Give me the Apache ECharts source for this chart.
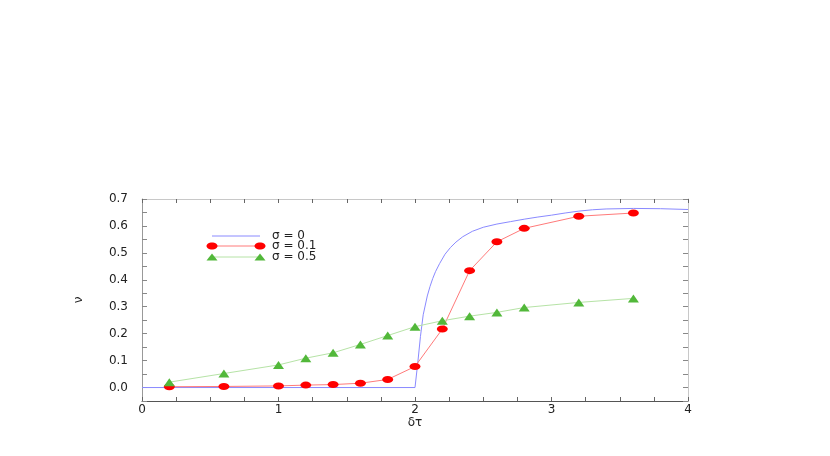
<!DOCTYPE html>
<html>
<head>
<meta charset="utf-8">
<script src="https://cdn.jsdelivr.net/npm/echarts@6/dist/echarts.min.js"></script>
<style>
  html, body { margin: 0; padding: 0; background: #fff; }
  #chart { width: 830px; height: 456px; }
</style>
</head>
<body>
<div id="chart"></div>
<script>
// x positions sampled for the two simulated series
const xSamples = [0.2, 0.6, 1.0, 1.2, 1.4, 1.6, 1.8, 2.0, 2.2, 2.4, 2.6, 2.8, 3.2, 3.6]
const sigma01 = [0.003, 0.004, 0.006, 0.009, 0.011, 0.016, 0.030, 0.078, 0.217, 0.434, 0.541, 0.591, 0.636, 0.648]
const sigma05 = [0.020, 0.052, 0.084, 0.109, 0.129, 0.160, 0.193, 0.226, 0.248, 0.265, 0.279, 0.297, 0.316, 0.331]

// sigma = 0 curve
const sigma0X = [0, 2.0, 2.02, 2.04, 2.06, 2.09, 2.11, 2.13, 2.15, 2.18, 2.22, 2.26, 2.3, 2.35, 2.42, 2.5, 2.6, 2.7, 2.8, 2.9, 3.0, 3.1, 3.2, 3.3, 3.4, 3.6, 3.8, 4.0]
const sigma0Y = [0, 0, 0.09, 0.19, 0.27, 0.34, 0.375, 0.405, 0.43, 0.46, 0.495, 0.52, 0.54, 0.56, 0.58, 0.595, 0.607, 0.616, 0.625, 0.633, 0.64, 0.648, 0.655, 0.66, 0.663, 0.665, 0.664, 0.661]

const xTickLabels = [0, 1, 2, 3, 4]
const yTickLabels = [0, 0.1, 0.2, 0.3, 0.4, 0.5, 0.6, 0.7]
const legendNames = ['σ = 0', 'σ = 0.1', 'σ = 0.5']

const blue = '#8a8aff'
const redLine = '#ff7a7a'
const red = '#ff0000'
const greenLine = '#b6e3a6'
const green = '#52b83a'
const font = 'DejaVu Sans'

const chart = echarts.init(document.getElementById('chart'), null, { renderer: 'canvas' })

const pair = (xs, ys) => xs.map((x, i) => [x, ys[i]])

const baseX = {
  type: 'value', min: 0, max: 4, interval: 0.25,
  splitLine: { show: false },
  axisTick: { inside: true, length: 4, lineStyle: { color: '#666' } },
}
const baseY = {
  type: 'value', min: -0.05, max: 0.7, interval: 0.05,
  splitLine: { show: false },
  axisTick: { inside: true, length: 5, lineStyle: { color: '#888' } },
}

// legend drawn as graphics so markers sit at both ends of the sample line
const legendRow = (y, lineColor, marker, markerColor, name) => {
  const els = [{
    type: 'line', shape: { x1: 212, y1: y, x2: 260, y2: y },
    style: { stroke: lineColor, lineWidth: 1 },
  }]
  if (marker === 'ellipse') {
    els.push({ type: 'ellipse', shape: { cx: 212, cy: y, rx: 5.5, ry: 3.5 }, style: { fill: markerColor } })
    els.push({ type: 'ellipse', shape: { cx: 260, cy: y, rx: 5.5, ry: 3.5 }, style: { fill: markerColor } })
  } else if (marker === 'triangle') {
    els.push({ type: 'polygon', shape: { points: [[206.5, y + 3.5], [217.5, y + 3.5], [212, y - 3.5]] }, style: { fill: markerColor } })
    els.push({ type: 'polygon', shape: { points: [[254.5, y + 3.5], [265.5, y + 3.5], [260, y - 3.5]] }, style: { fill: markerColor } })
  }
  els.push({
    type: 'text', x: 272, y: y,
    style: { text: name, fill: '#222', font: '12px ' + font, textVerticalAlign: 'middle' },
  })
  return els
}

chart.setOption({
  animation: false,
  backgroundColor: '#fff',
  grid: { left: 142, right: 142, top: 199, bottom: 55 },
  xAxis: [
    {
      ...baseX,
      position: 'bottom',
      name: 'δτ', nameLocation: 'middle', nameGap: 10,
      nameTextStyle: { color: '#222', fontFamily: font, fontSize: 12 },
      axisLine: { onZero: false, lineStyle: { color: '#555', width: 1 } },
      axisLabel: { customValues: xTickLabels, color: '#222', fontFamily: font, fontSize: 12, margin: 3 },
    },
    {
      ...baseX,
      position: 'top',
      axisLine: { onZero: false, lineStyle: { color: '#c8c8c8', width: 1 } },
      axisLabel: { show: false },
    },
  ],
  yAxis: [
    {
      ...baseY,
      position: 'left',
      name: 'ν', nameLocation: 'middle', nameGap: 57, nameRotate: 90,
      nameTextStyle: { color: '#222', fontFamily: font, fontSize: 12 },
      axisLine: { show: true, onZero: false, lineStyle: { color: '#999', width: 1 } },
      axisLabel: {
        customValues: yTickLabels, color: '#222', fontFamily: font, fontSize: 12, margin: 14,
        formatter: (v) => v.toFixed(1),
      },
    },
    {
      ...baseY,
      position: 'right',
      axisLine: { show: true, onZero: false, lineStyle: { color: '#c8c8c8', width: 1 } },
      axisLabel: { show: false },
    },
  ],
  series: [
    {
      name: legendNames[0], type: 'line', symbol: 'none',
      data: pair(sigma0X, sigma0Y),
      lineStyle: { color: blue, width: 1 },
      z: 2,
    },
    {
      name: legendNames[1], type: 'line', symbol: 'circle', symbolSize: [11, 7],
      data: pair(xSamples, sigma01),
      lineStyle: { color: redLine, width: 1 },
      itemStyle: { color: red },
      z: 3,
    },
    {
      name: legendNames[2], type: 'line', symbol: 'triangle', symbolSize: [11, 8],
      data: pair(xSamples, sigma05),
      lineStyle: { color: greenLine, width: 1 },
      itemStyle: { color: green },
      z: 3,
    },
  ],
  graphic: [
    ...legendRow(236, blue, null, null, legendNames[0]),
    ...legendRow(246, redLine, 'ellipse', red, legendNames[1]),
    ...legendRow(257, greenLine, 'triangle', green, legendNames[2]),
  ],
})

window.addEventListener('resize', () => chart.resize())
</script>
</body>
</html>
